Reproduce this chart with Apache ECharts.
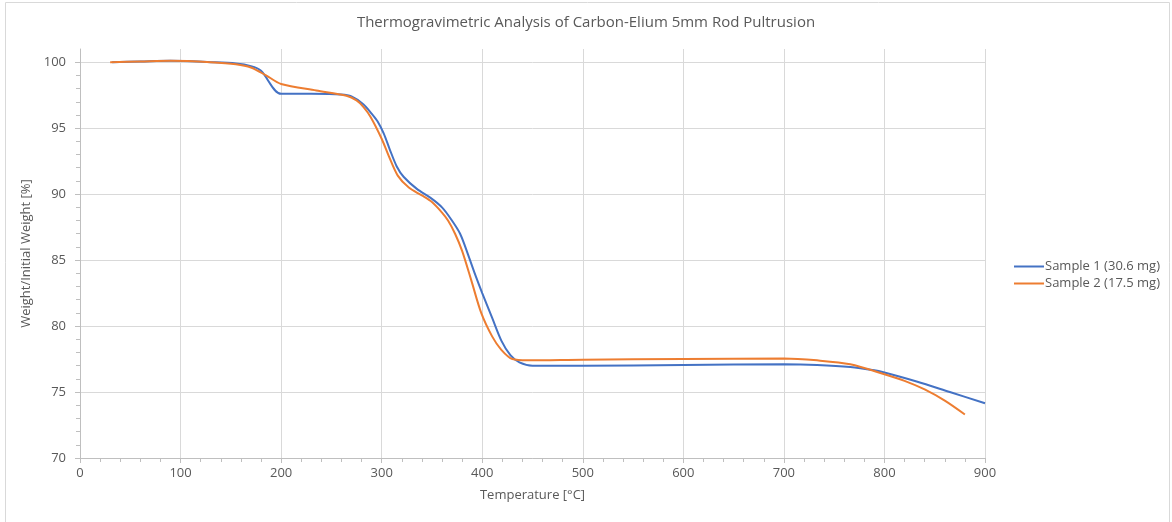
<!DOCTYPE html>
<html>
<head>
<meta charset="utf-8">
<script src="https://cdn.jsdelivr.net/npm/echarts@6/dist/echarts.min.js"></script>
<style>
  html, body { margin: 0; padding: 0; background: #fff; }
  #chart { width: 1172px; height: 522px; }
</style>
</head>
<body>
<div id="chart"></div>
<script>
// temperature [°C], weight [%]
const sample1 = [
  [32, 100.0], [60, 100.05], [90, 100.1], [130, 100.0], [155, 99.9], [170, 99.7],
  [180, 99.35], [200, 97.6], [230, 97.6], [260, 97.55], [270, 97.4], [282, 96.8],
  [290, 96.1], [296, 95.5], [302, 94.6], [308, 93.4], [315, 92.1], [322, 91.3],
  [335, 90.4], [349, 89.7], [360, 89.0], [369, 88.1], [378, 87.0], [386, 85.4],
  [393, 83.9], [400, 82.5], [410, 80.6], [419, 78.9], [428, 77.8], [437, 77.25],
  [450, 77.0], [500, 77.0], [600, 77.05], [700, 77.1], [733, 77.05], [766, 76.9],
  [790, 76.65], [799, 76.5], [832, 75.8], [865, 75.0], [900, 74.15]
]
const sample2 = [
  [30, 100.0], [60, 100.05], [90, 100.1], [130, 100.0], [155, 99.85], [170, 99.6],
  [185, 99.0], [200, 98.35], [235, 97.85], [265, 97.45], [275, 97.1], [282, 96.6],
  [289, 95.85], [300, 94.2], [307, 92.9], [316, 91.4], [327, 90.5], [340, 89.9],
  [350, 89.4], [360, 88.6], [366, 88.0], [373, 87.0], [380, 85.7], [389, 83.5],
  [399, 81.0], [410, 79.2], [419, 78.2], [430, 77.5], [445, 77.4], [500, 77.45],
  [600, 77.5], [700, 77.55], [733, 77.4], [766, 77.1], [800, 76.35], [820, 75.85],
  [840, 75.2], [860, 74.35], [880, 73.3]
]
const seriesNames = ['Sample 1 (30.6 mg)', 'Sample 2 (17.5 mg)']
const yTicks = [70, 75, 80, 85, 90, 95, 100]

const chart = echarts.init(document.getElementById('chart'))
const font = 'Open Sans'
chart.setOption({
  animation: false,
  graphic: [{
    type: 'rect',
    shape: { x: 5.5, y: 2.5, width: 1164, height: 530 },
    style: { fill: 'none', stroke: '#d9d9d9', lineWidth: 1 },
    silent: true
  }],
  title: {
    text: 'Thermogravimetric Analysis of Carbon-Elium 5mm Rod Pultrusion',
    left: 'center',
    top: 10,
    textStyle: { fontFamily: font, fontSize: 15, fontWeight: 'normal', color: '#595959' }
  },
  legend: {
    orient: 'vertical',
    left: 1009,
    top: 255,
    itemWidth: 30,
    itemHeight: 2,
    itemGap: 4,
    icon: 'rect',
    data: seriesNames,
    textStyle: { fontFamily: font, fontSize: 13, color: '#595959', padding: [0, 0, 0, -4] }
  },
  grid: { left: 80, right: 187, top: 49, bottom: 64 },
  xAxis: {
    type: 'value',
    min: 0,
    max: 900,
    interval: 100,
    name: 'Temperature [°C]',
    nameLocation: 'middle',
    nameGap: 31,
    nameTextStyle: { fontFamily: font, fontSize: 13, color: '#595959' },
    axisLine: { lineStyle: { color: '#bfbfbf' } },
    axisTick: { show: true, length: 5, lineStyle: { color: '#bfbfbf' } },
    minorTick: { show: true, splitNumber: 5, length: 4, lineStyle: { color: '#bfbfbf' } },
    axisLabel: { fontFamily: font, fontSize: 13, color: '#595959', margin: 9 },
    splitLine: { lineStyle: { color: '#d9d9d9' } }
  },
  yAxis: {
    type: 'value',
    min: 70,
    max: 101,
    interval: 5,
    name: 'Weight/Initial Weight [%]',
    nameLocation: 'middle',
    nameGap: 44,
    nameTextStyle: { fontFamily: font, fontSize: 13, color: '#595959' },
    axisLine: { show: true, lineStyle: { color: '#bfbfbf' } },
    axisTick: { show: true, length: 5, customValues: yTicks, lineStyle: { color: '#bfbfbf' } },
    minorTick: { show: true, splitNumber: 5, length: 4, lineStyle: { color: '#bfbfbf' } },
    axisLabel: { fontFamily: font, fontSize: 13, color: '#595959', margin: 14, customValues: yTicks },
    splitLine: { lineStyle: { color: '#d9d9d9' } }
  },
  series: [
    {
      name: seriesNames[0],
      type: 'line',
      data: sample1,
      showSymbol: false,
      symbol: 'none',
      smooth: 0.3,
      lineStyle: { color: '#4472c4', width: 2 },
      itemStyle: { color: '#4472c4' }
    },
    {
      name: seriesNames[1],
      type: 'line',
      data: sample2,
      showSymbol: false,
      symbol: 'none',
      smooth: 0.3,
      lineStyle: { color: '#ed7d31', width: 2 },
      itemStyle: { color: '#ed7d31' }
    }
  ]
})
</script>
</body>
</html>
